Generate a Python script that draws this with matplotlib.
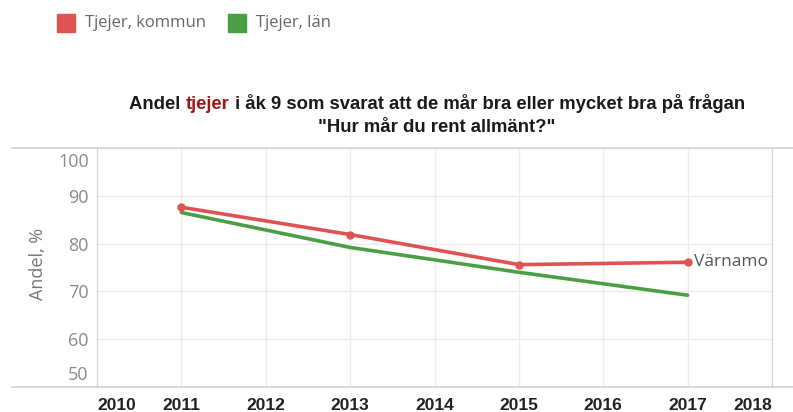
import matplotlib
matplotlib.use("Agg")
import matplotlib.pyplot as plt
from matplotlib.lines import Line2D
from matplotlib.patches import Rectangle

years = [2011, 2013, 2015, 2017]
kommun = [87.6, 81.9, 75.6, 76.1]
lan = [86.5, 79.2, 74.0, 69.2]
x_ticks = list(range(2010, 2019))
y_ticks = [50, 60, 70, 80, 90, 100]

RED = "#e05252"
GREEN = "#4c9e45"
GRID = "#ececec"
BORDER = "#d4d4d4"

fig = plt.figure(figsize=(7.93, 4.12), dpi=100)
ax = fig.add_axes([97 / 793, 1 - 387 / 412, (772 - 97) / 793, (387 - 148) / 412])

ax.plot(years, lan, color=GREEN, lw=2.6, solid_capstyle="round", zorder=3)
ax.plot(years, kommun, color=RED, lw=2.6, marker="o", ms=5, solid_capstyle="round", zorder=4)
ax.text(years[-1] + 0.07, kommun[-1], "Värnamo", color="#555555", fontsize=12.5,
        family="Open Sans", va="center", ha="left")

ax.set_xlim(2010, 2018)
ax.set_ylim(50, 100)
ax.set_xticks(x_ticks)
ax.set_yticks(y_ticks)
ax.grid(True, color=GRID, lw=1)
ax.set_axisbelow(True)
ax.tick_params(length=0)
ax.tick_params(axis="x", pad=8)
ax.tick_params(axis="y", pad=6)

ax.set_xticklabels([str(y) for y in x_ticks], fontsize=12.5, fontweight="bold",
                   color="#222222", family="Liberation Sans")
ax.get_xticklabels()[0].set_ha("left")
ax.get_xticklabels()[-1].set_ha("right")

# the end labels (50, 100) sit inside the plot edges, as in the original
ytick_kw = dict(fontsize=13, color="#8a8a8a", family="Open Sans")
ax.set_yticklabels([str(y) if y not in (y_ticks[0], y_ticks[-1]) else "" for y in y_ticks], **ytick_kw)
for yv, dy in [(y_ticks[-1], -10), (y_ticks[0], 8.5)]:
    ax.annotate(str(yv), xy=(0, yv), xycoords=("axes fraction", "data"),
                xytext=(-6, dy), textcoords="offset points", ha="right", va="center", **ytick_kw)
ax.set_ylabel("Andel, %", fontsize=13, color="#777777", family="Open Sans")
ax.yaxis.set_label_coords(-0.074, 0.515)

for s in ["top", "bottom"]:
    ax.spines[s].set_visible(False)
for s in ["left", "right"]:
    ax.spines[s].set_color(BORDER)

# horizontal rules across the panel
for yy in [148, 387]:
    fig.add_artist(Line2D([12 / 793, 1], [1 - yy / 412] * 2, color=BORDER, lw=1.3,
                          transform=fig.transFigure))

# legend
for (x0, label, col) in [(57, "Tjejer, kommun", RED), (228, "Tjejer, län", GREEN)]:
    fig.add_artist(Rectangle((x0 / 793, 1 - 32 / 412), 18 / 793, 18 / 412,
                             transform=fig.transFigure, color=col))
    fig.text((x0 + 28) / 793, 1 - 23 / 412, label, fontsize=12, color="#666666",
             family="Open Sans", va="center", ha="left")

# title, with "tjejer" in dark red
title_kw = dict(fontsize=13.3, fontweight="bold", family="Liberation Sans", va="baseline")
parts = [("Andel ", "#1a1a1a"), ("tjejer", "#a31515"),
         (" i åk 9 som svarat att de mår bra eller mycket bra på frågan", "#1a1a1a")]
renderer = fig.canvas.get_renderer()


def text_width(s):
    t = fig.text(0, 0, s, **title_kw)
    w = t.get_window_extent(renderer).width
    t.remove()
    return w


full = "".join(p[0] for p in parts)
x_start = 437 - text_width(full) / 2
prefix = ""
for txt, col in parts:
    off = text_width(prefix + "x") - text_width("x") if prefix else 0
    fig.text((x_start + off) / 793, 1 - 109 / 412, txt, color=col, ha="left", **title_kw)
    prefix += txt
fig.text(437 / 793, 1 - 132 / 412, '"Hur mår du rent allmänt?"', color="#1a1a1a",
         ha="center", **title_kw)

fig.savefig("out.png", dpi=100)
